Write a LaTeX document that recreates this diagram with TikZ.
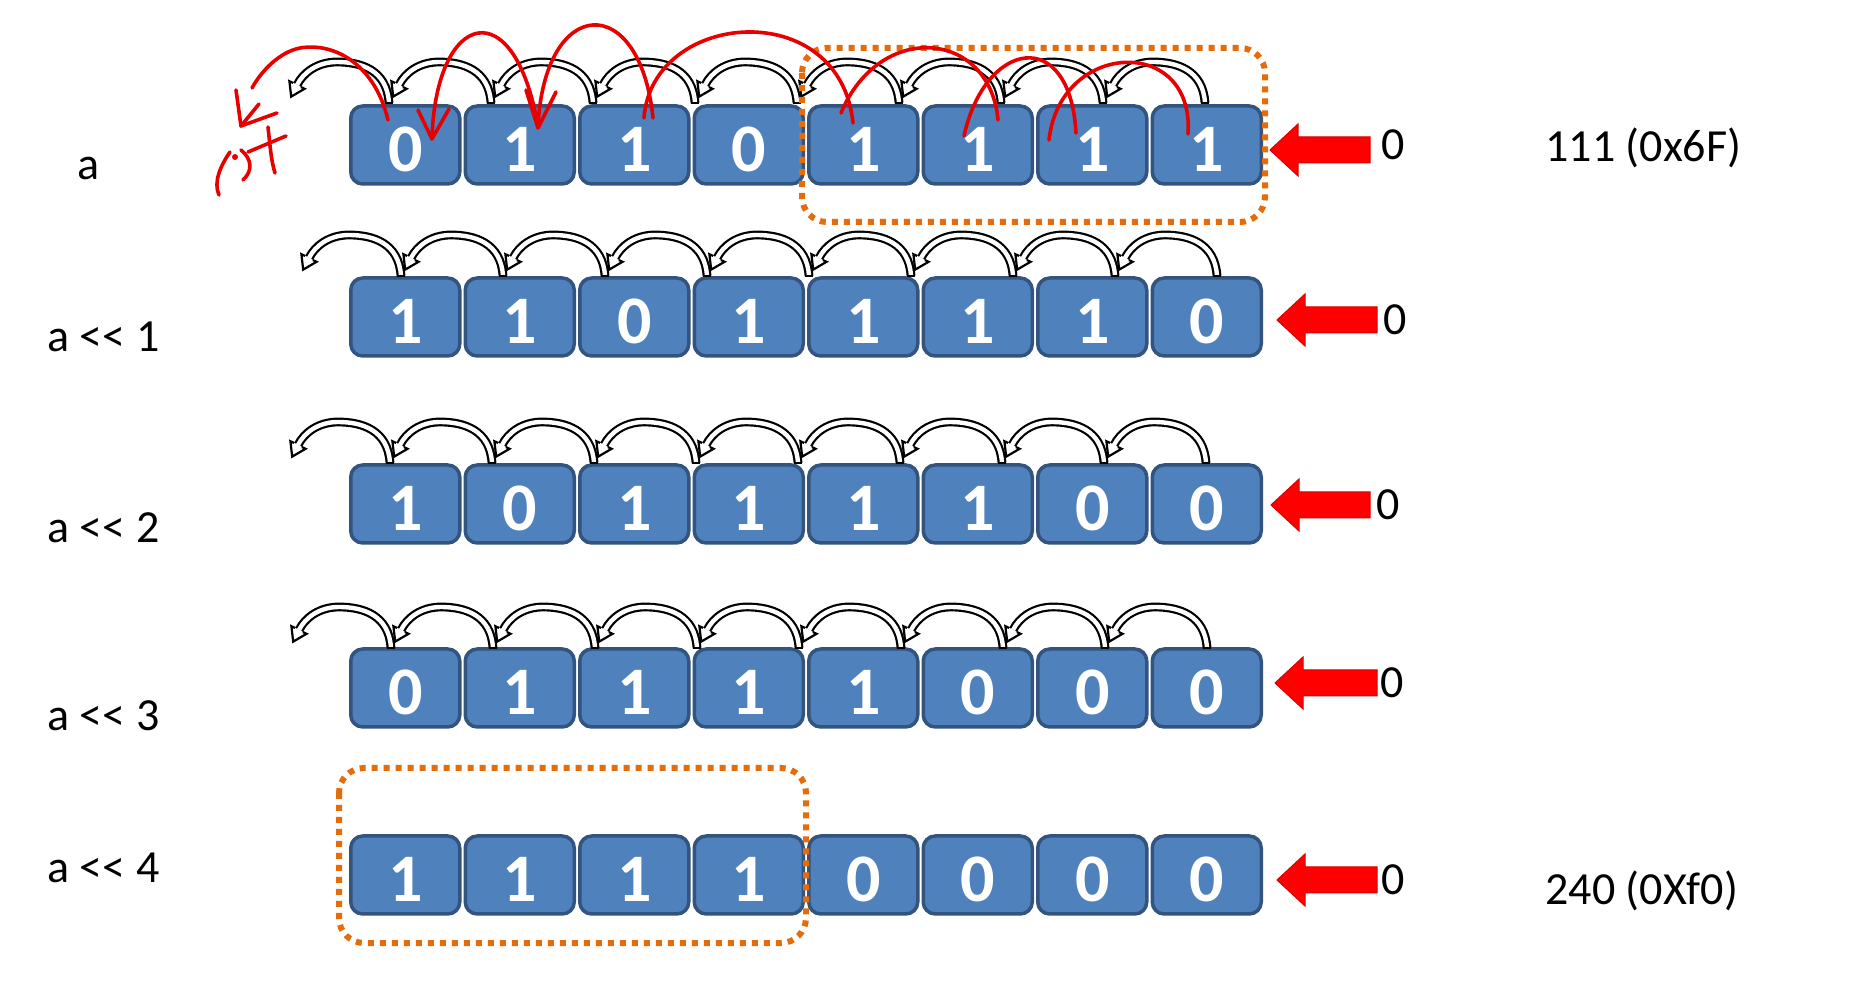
\documentclass[tikz,border=0pt]{standalone}
\usepackage{fontspec}
\newfontfamily\calfont{Carlito}
\definecolor{boxfill}{RGB}{79,129,189}
\definecolor{boxline}{RGB}{50,84,126}
\definecolor{orng}{RGB}{228,108,10}
\definecolor{pen}{RGB}{232,0,0}
\definecolor{blockred}{RGB}{255,0,0}
\tikzset{
  bitbox/.style={draw=boxline, fill=boxfill, line width=1.75pt, rounded corners=6pt,
    minimum width=54.5pt, minimum height=39pt, inner sep=0pt, text=white,
    font=\calfont\bfseries\fontsize{34}{34}\selectfont, text height=26.5pt, text depth=0pt},
  lbl/.style={inner sep=0pt, font=\calfont\fontsize{23}{27}\selectfont},
  penline/.style={draw=pen, line width=1.8pt, line cap=round, line join=round},
  frame/.style={draw=orng, line width=3pt, dash pattern=on 3pt off 3pt, rounded corners=12.5pt},
}
\newcommand\hollowarc[2]{%
  \begin{scope}[shift={(#1,#2)}]
    \draw[black, line width=4.4pt] (0,0) .. controls (-2,-33) and (-28,-41) .. (-52,-41) .. controls (-72,-41) and (-86,-30) .. (-92,-18);
    \draw[white, line width=2.2pt] (0,0) .. controls (-2,-33) and (-28,-41) .. (-52,-41) .. controls (-72,-41) and (-86,-30) .. (-92,-18);
    \fill[white] (-88.42,-16.21) -- (-84.40,-14.20) -- (-97.81,-6.38) -- (-99.60,-21.80) -- (-95.58,-19.79) -- cycle;
    \draw[black, line width=1.1pt, line join=miter] (-88.1,-16.0) -- (-84.40,-14.20) -- (-97.81,-6.38) -- (-99.60,-21.80) -- (-95.9,-20.0);
    \draw[black, line width=1.1pt] (-4.4,0) -- (4.4,0);
  \end{scope}}
\newcommand\blockarrow[3]{% tip x, center y, end x
  \filldraw[fill=blockred, draw=blockred!85!black, line width=0.5pt]
    (#1,#2) -- (#1+28,#2-26) -- (#1+28,#2-13) -- (#3,#2-13) -- (#3,#2+13) -- (#1+28,#2+13) -- (#1+28,#2+26) -- cycle;}
\begin{document}
\begin{tikzpicture}[x=0.5pt, y=-0.5pt]
  \fill[white] (0,0) rectangle (1849,983);
  \useasboundingbox (0,0) rectangle (1849,983);

  % bit rows
  \foreach \b [count=\i from 0] in {0,1,1,0,1,1,1,1}
    \node[bitbox] (ra\i) at ({405.25+114.5*\i},145) {\b};
  \foreach \b [count=\i from 0] in {1,1,0,1,1,1,1,0}
    \node[bitbox] (rb\i) at ({405.25+114.5*\i},317) {\b};
  \foreach \b [count=\i from 0] in {1,0,1,1,1,1,0,0}
    \node[bitbox] (rc\i) at ({405.25+114.5*\i},504) {\b};
  \foreach \b [count=\i from 0] in {0,1,1,1,1,0,0,0}
    \node[bitbox] (rd\i) at ({405.25+114.5*\i},688) {\b};
  \foreach \b [count=\i from 0] in {1,1,1,1,0,0,0,0}
    \node[bitbox] (re\i) at ({405.25+114.5*\i},875) {\b};

  % hollow shift arcs
  \foreach \k in {0,...,8} {\hollowarc{389+102*\k}{103}}
  \foreach \k in {0,...,8} {\hollowarc{401+102*\k}{276}}
  \foreach \k in {0,...,8} {\hollowarc{390+102*\k}{463}}
  \foreach \k in {0,...,8} {\hollowarc{391+102*\k}{648}}

  % left labels
  \node[lbl, anchor=base west] (la) at (77,180) {a};
  \node[lbl, anchor=base west] (lb) at (47,352) {a <{}< 1};
  \node[lbl, anchor=base west] (lc) at (47,543) {a <{}< 2};
  \node[lbl, anchor=base west] (ld) at (47,731) {a <{}< 3};
  \node[lbl, anchor=base west] (le) at (47,883) {a <{}< 4};

  % red block arrows and incoming zeros
  \blockarrow{1270}{150}{1370}
  \blockarrow{1277}{320}{1377}
  \blockarrow{1271}{505}{1370}
  \blockarrow{1275}{683}{1377}
  \blockarrow{1277}{880}{1377}
  \node[lbl] (za) at (1393,145) {0};
  \node[lbl] (zb) at (1395,320) {0};
  \node[lbl] (zc) at (1388,505) {0};
  \node[lbl] (zd) at (1392,683) {0};
  \node[lbl] (ze) at (1393,880) {0};

  % values
  \node[lbl, anchor=base west] (va) at (1545,161.5) {111 (0x6F)};
  \node[lbl, anchor=base west] (ve) at (1545,904.5) {240 (0Xf0)};

  % orange highlight frames
  \draw[frame] (802,48) rectangle (1265,222);
  \draw[frame] (339,768) rectangle (806,943);

  % red handwritten annotations
  \draw[penline] (388,120) .. controls (375,65) and (335,42) .. (300,48) .. controls (280,52) and (262,70) .. (252,88);
  \draw[penline] (236,90) -- (241,126) -- (277,113);
  \draw[penline] (241,126) -- (259,104);
  \draw[penline] (230,152) .. controls (221,165) and (213,182) .. (219,195);
  \fill[pen] (235,157) circle[radius=1.5pt];
  \draw[penline] (241,150) .. controls (252,159) and (253,171) .. (243,180);
  \draw[penline] (268,127) .. controls (270,145) and (271,160) .. (275,173);
  \draw[penline] (248,152) -- (286,136);
  \draw[penline] (418,110) -- (432,139) -- (449,109);
  \draw[penline] (432,138) .. controls (436,10) and (515,-10) .. (538,127);
  \draw[penline] (526,90) -- (538,128) -- (556,92);
  \draw[penline] (538,127) .. controls (544,-5) and (640,-10) .. (653,118);
  \draw[penline] (644,118) .. controls (652,10) and (840,-5) .. (853,123);
  \draw[penline] (841,113) .. controls (880,20) and (990,30) .. (998,120);
  \draw[penline] (964,136) .. controls (985,40) and (1070,25) .. (1076,133);
  \draw[penline] (1049,140) .. controls (1060,40) and (1195,35) .. (1188,134);
\end{tikzpicture}
\end{document}
